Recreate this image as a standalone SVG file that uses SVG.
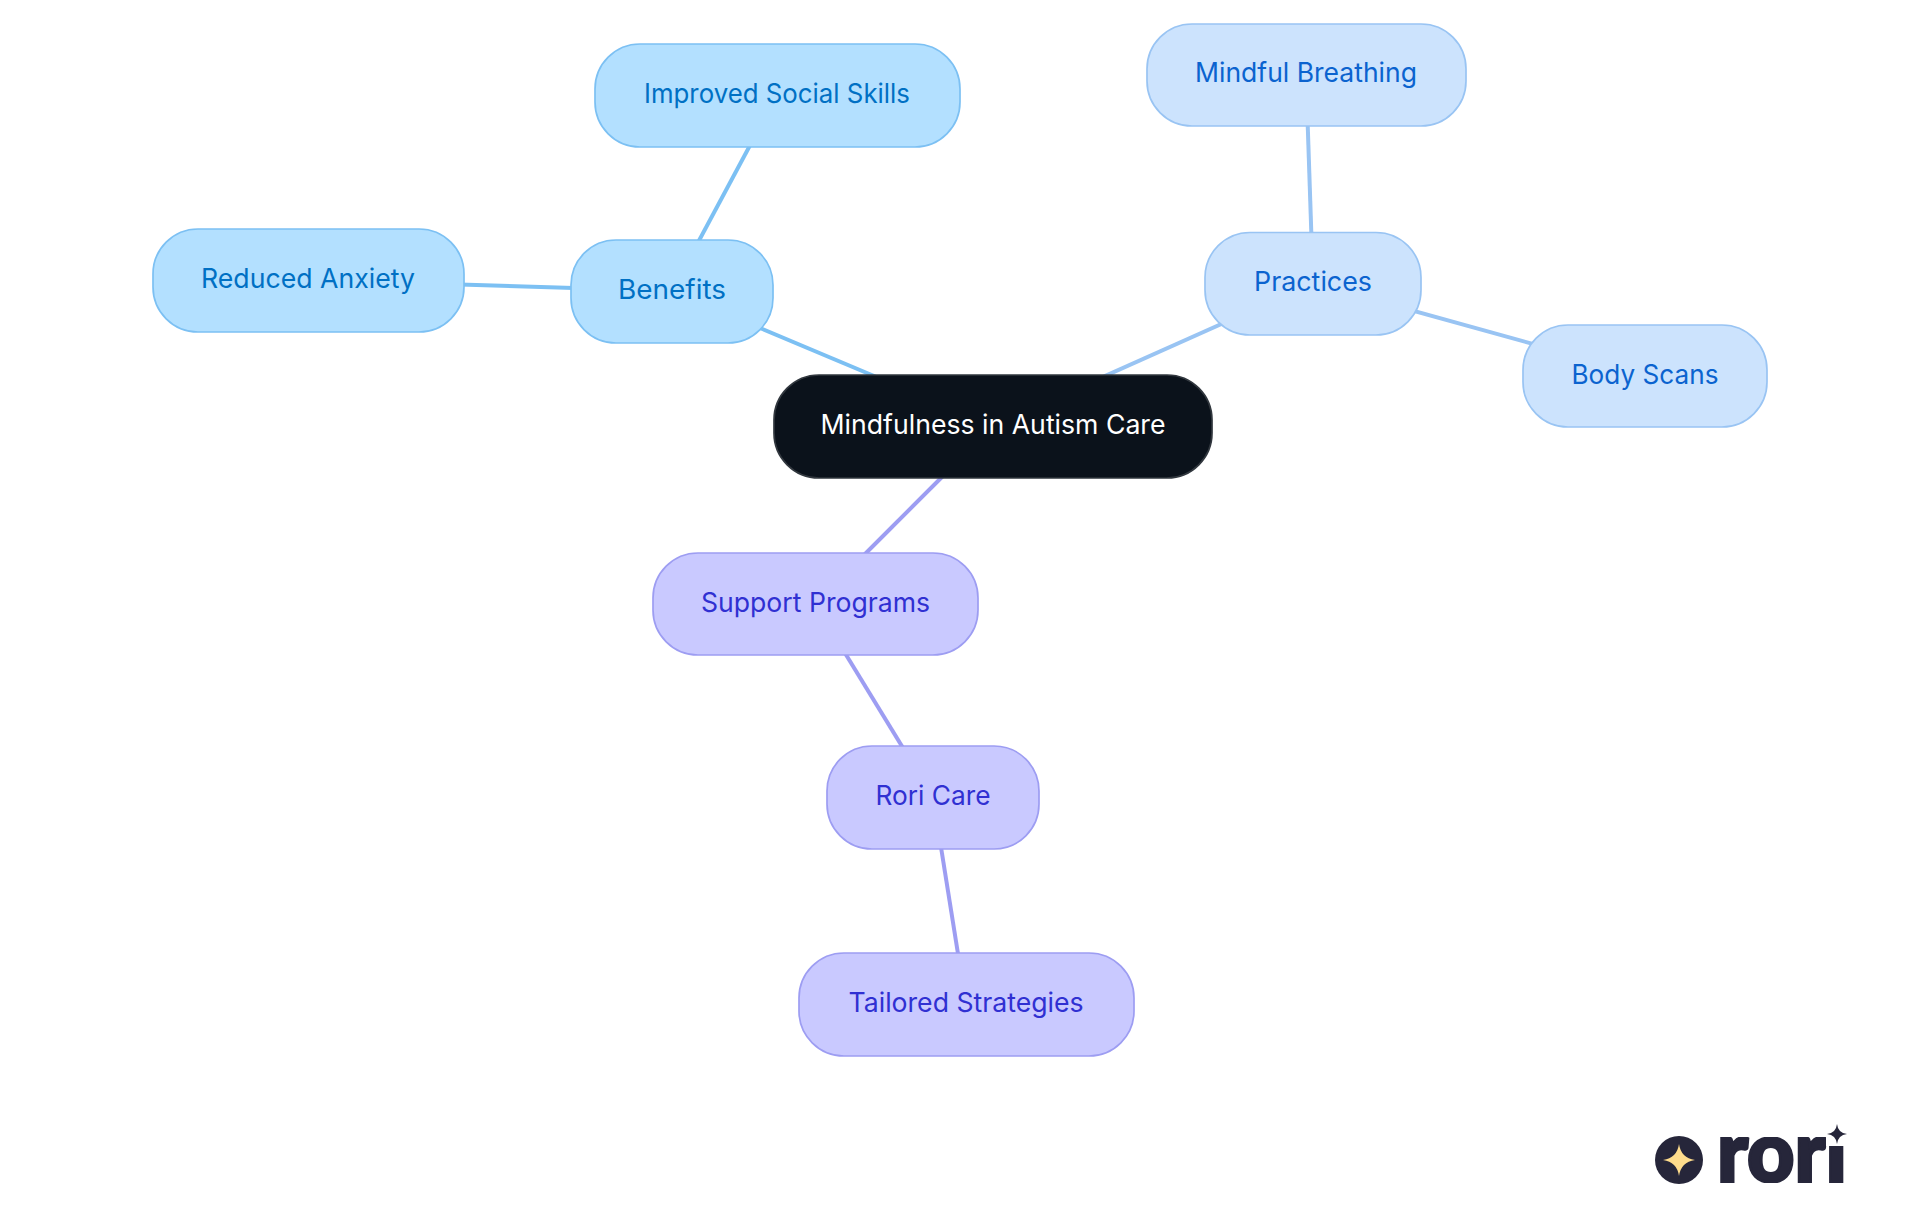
<svg xmlns="http://www.w3.org/2000/svg" width="1920" height="1215" viewBox="0 0 1920 1215">
<style>
text{font-family:"Inter","Noto Sans",sans-serif;font-size:27px;text-anchor:middle}
.n{stroke-width:1.7}
.e{fill:none;stroke-width:4}
.a rect{fill:#b3e0ff;stroke:#7cc0f3}.a text{fill:#0070c4}
.b rect{fill:#cce3fd;stroke:#99c4f3}.b text{fill:#0b63cf}
.c rect{fill:#c9c9ff;stroke:#9d9df2}.c text{fill:#3030d2}
.r rect{fill:#0b121b;stroke:#31373e}.r text{fill:#ffffff}
.ea{stroke:#7cc0f3}.eb{stroke:#99c4f3}.ec{stroke:#9d9df2}
</style>
<defs>
<clipPath id="logoclip"><path d="M1710 1137H1826V1146H1860V1183H1710Z"/></clipPath>
</defs>
<rect width="1920" height="1215" fill="#ffffff"/>
<g id="connectors">
<line class="e ea" x1="993" y1="426" x2="672" y2="291"/>
<line class="e ea" x1="672" y1="291" x2="777" y2="95"/>
<line class="e ea" x1="672" y1="291" x2="308" y2="280"/>
<line class="e eb" x1="993" y1="426" x2="1313" y2="283"/>
<line class="e eb" x1="1313" y1="283" x2="1306" y2="74"/>
<line class="e eb" x1="1313" y1="283" x2="1645" y2="375"/>
<line class="e ec" x1="993" y1="426" x2="815" y2="604"/>
<line class="e ec" x1="815" y1="604" x2="933" y2="797"/>
<line class="e ec" x1="933" y1="797" x2="966" y2="1004"/>
</g>
<g id="root" class="r"><rect class="n" x="774" y="375" width="438" height="103" rx="45"/><text x="993" y="434" textLength="345" lengthAdjust="spacingAndGlyphs">Mindfulness in Autism Care</text></g>
<g id="benefits" class="a"><rect class="n" x="571" y="240" width="202" height="103" rx="45"/><text x="672" y="299" textLength="108" lengthAdjust="spacingAndGlyphs">Benefits</text></g>
<g id="improved" class="a"><rect class="n" x="595" y="44" width="365" height="103" rx="45"/><text x="777" y="103" textLength="266" lengthAdjust="spacingAndGlyphs">Improved Social Skills</text></g>
<g id="reduced" class="a"><rect class="n" x="153" y="229" width="311" height="103" rx="45"/><text x="308" y="288" textLength="214" lengthAdjust="spacingAndGlyphs">Reduced Anxiety</text></g>
<g id="practices" class="b"><rect class="n" x="1205" y="232.500" width="216" height="102.500" rx="45"/><text x="1313" y="291" textLength="118" lengthAdjust="spacingAndGlyphs">Practices</text></g>
<g id="breathing" class="b"><rect class="n" x="1147" y="24" width="319" height="102" rx="45"/><text x="1306" y="82" textLength="222" lengthAdjust="spacingAndGlyphs">Mindful Breathing</text></g>
<g id="scans" class="b"><rect class="n" x="1523" y="325" width="244" height="102" rx="45"/><text x="1645" y="384" textLength="147" lengthAdjust="spacingAndGlyphs">Body Scans</text></g>
<g id="support" class="c"><rect class="n" x="653" y="553" width="325" height="102" rx="45"/><text x="815.500" y="612" textLength="229" lengthAdjust="spacingAndGlyphs">Support Programs</text></g>
<g id="rori" class="c"><rect class="n" x="827" y="746" width="212" height="103" rx="45"/><text x="933" y="805" textLength="115" lengthAdjust="spacingAndGlyphs">Rori Care</text></g>
<g id="tailored" class="c"><rect class="n" x="799" y="953" width="335" height="103" rx="45"/><text x="966" y="1012" textLength="235" lengthAdjust="spacingAndGlyphs">Tailored Strategies</text></g>
<g id="logo">
<circle cx="1679" cy="1160" r="24" fill="#26263a"/>
<path d="M1679 1144Q1681 1158 1695 1160Q1681 1162 1679 1176Q1677 1162 1663 1160Q1677 1158 1679 1144Z" fill="#fedc8c"/>
<text x="1782" y="1182" textLength="130" lengthAdjust="spacingAndGlyphs" clip-path="url(#logoclip)" style="font-family:'Lato','Noto Sans',sans-serif;font-size:86px;font-weight:900;fill:#26263a;stroke:#26263a;stroke-width:3">rori</text>
<path d="M1837 1124Q1838 1133 1847 1134Q1838 1135 1837 1144Q1836 1135 1827 1134Q1836 1133 1837 1124Z" fill="#26263a"/>
</g>
</svg>
